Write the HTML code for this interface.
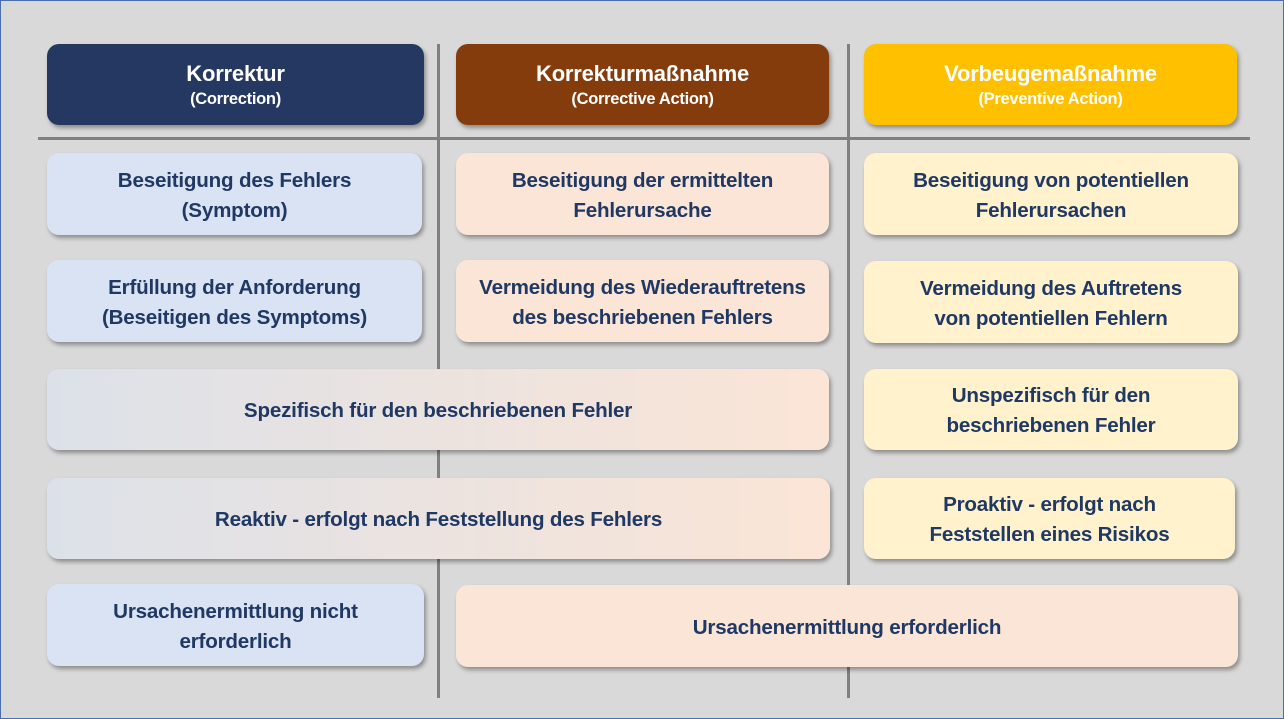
<!DOCTYPE html>
<html><head><meta charset="utf-8"><style>
html,body{margin:0;padding:0}
body{width:1284px;height:719px;position:relative;background:#d9d9d9;overflow:hidden;font-family:"Liberation Sans",sans-serif;font-weight:bold}
.frame{position:absolute;left:0;top:0;width:1282px;height:717px;border:1px solid #4a6fb0}
.b{position:absolute;box-sizing:border-box;padding-top:3px;border-radius:12px;display:flex;flex-direction:column;align-items:center;justify-content:center;text-align:center;box-shadow:2px 3px 4px rgba(0,0,0,.35);color:#1f3864;font-size:20.6px;line-height:30px;letter-spacing:-0.2px}
.h{color:#fff;font-size:22px;line-height:28px;padding-top:0}
.h small{font-size:16.5px;line-height:22px;letter-spacing:-0.3px}
.l{position:absolute;background:#808080}
.c1{background:#dae3f3}.c2{background:#fbe5d6}.c3{background:#fff2cc}
.g{background:linear-gradient(90deg,#dce1e9,#fbe5d6)}
</style></head><body>
<div class="frame"></div>
<div class="l" style="left:437px;top:44px;width:3px;height:654px"></div>
<div class="l" style="left:847px;top:44px;width:3px;height:654px"></div>
<div class="l" style="left:38px;top:137px;width:1212px;height:3px"></div>

<div class="b h" style="left:47px;top:44px;width:377px;height:81px;background:#253862">Korrektur<small>(Correction)</small></div>
<div class="b h" style="left:456px;top:44px;width:373px;height:81px;background:#843c0c">Korrekturmaßnahme<small>(Corrective Action)</small></div>
<div class="b h" style="left:864px;top:44px;width:373px;height:81px;background:#ffc000">Vorbeugemaßnahme<small>(Preventive Action)</small></div>

<div class="b c1" style="left:47px;top:153px;width:375px;height:82px">Beseitigung des Fehlers<br>(Symptom)</div>
<div class="b c2" style="left:456px;top:153px;width:373px;height:82px">Beseitigung der ermittelten<br>Fehlerursache</div>
<div class="b c3" style="left:864px;top:153px;width:374px;height:82px">Beseitigung von potentiellen<br>Fehlerursachen</div>

<div class="b c1" style="left:47px;top:260px;width:375px;height:82px">Erfüllung der Anforderung<br>(Beseitigen des Symptoms)</div>
<div class="b c2" style="left:456px;top:260px;width:373px;height:82px">Vermeidung des Wiederauftretens<br>des beschriebenen Fehlers</div>
<div class="b c3" style="left:864px;top:261px;width:374px;height:82px">Vermeidung des Auftretens<br>von potentiellen Fehlern</div>

<div class="b g" style="left:47px;top:369px;width:782px;height:81px">Spezifisch für den beschriebenen Fehler</div>
<div class="b c3" style="left:864px;top:369px;width:374px;height:81px">Unspezifisch für den<br>beschriebenen Fehler</div>

<div class="b g" style="left:47px;top:478px;width:783px;height:81px">Reaktiv - erfolgt nach Feststellung des Fehlers</div>
<div class="b c3" style="left:864px;top:478px;width:371px;height:81px">Proaktiv - erfolgt nach<br>Feststellen eines Risikos</div>

<div class="b c1" style="left:47px;top:584px;width:377px;height:82px">Ursachenermittlung nicht<br>erforderlich</div>
<div class="b c2" style="left:456px;top:585px;width:782px;height:82px">Ursachenermittlung erforderlich</div>
</body></html>
